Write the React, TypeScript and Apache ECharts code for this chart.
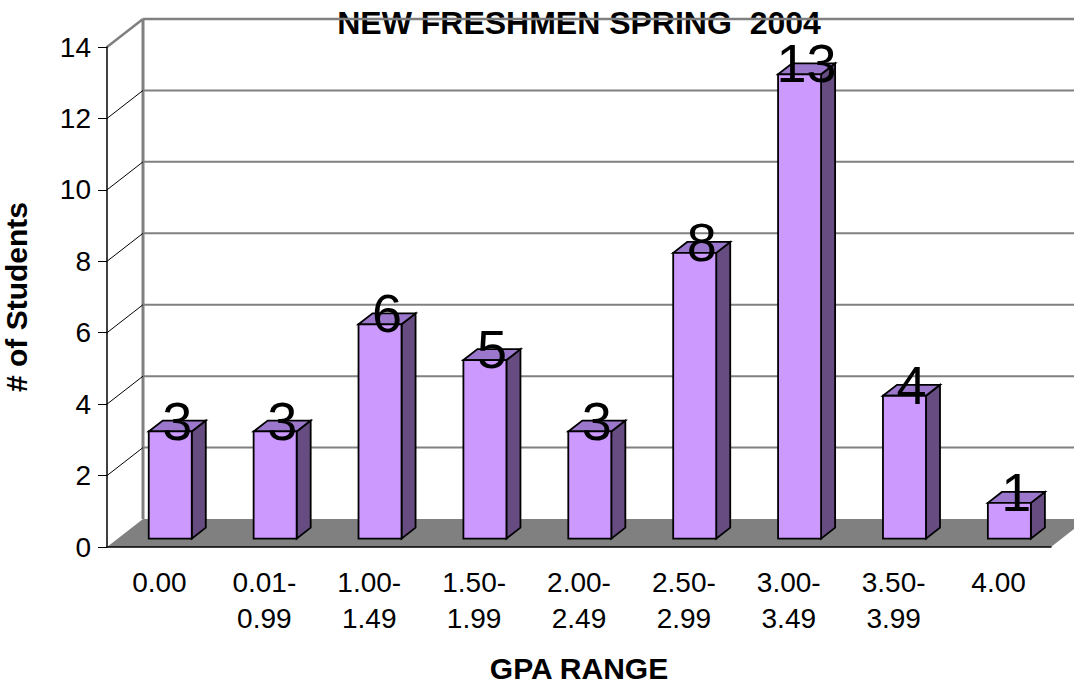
import React, { useEffect, useRef } from "react";
import * as echarts from "echarts";

const categories = [
  "0.00",
  "0.01-\n0.99",
  "1.00-\n1.49",
  "1.50-\n1.99",
  "2.00-\n2.49",
  "2.50-\n2.99",
  "3.00-\n3.49",
  "3.50-\n3.99",
  "4.00",
];
const students = [3, 3, 6, 5, 3, 8, 13, 4, 1];
const yTicks = [0, 2, 4, 6, 8, 10, 12, 14];
const chartTitle = "NEW FRESHMEN SPRING  2004";
const xName = "GPA RANGE";
const yName = "# of Students";

const FONT = "'Liberation Sans', Arial, Helvetica, sans-serif";
const DEPTH = [36, -28];
const FRONT = 0.3;
const BAR_DEPTH = 0.39;
const BAR_W = 0.41;
const GRAY = "#808080";

export default function App() {
  const ref = useRef<HTMLDivElement>(null);

  useEffect(() => {
    document.body.style.margin = "0";
    if (!ref.current) return;
    const chart = echarts.init(ref.current, undefined, { renderer: "svg" });
    const yMin = yTicks[0];
    const yMax = yTicks[yTicks.length - 1];

    const option: any = {
      animation: false,
      backgroundColor: "#ffffff",
      title: {
        text: chartTitle,
        left: 574,
        top: 2,
        textAlign: "center",
        z: 0,
        textStyle: {
          fontSize: 32,
          fontWeight: "bold",
          color: "#000",
          fontFamily: FONT,
          lineHeight: 32,
        },
      },
      grid: {
        left: 107,
        top: 47,
        width: 944,
        height: 500,
        containLabel: false,
        outerBoundsMode: "none",
      },
      xAxis: {
        type: "category",
        data: categories,
        z: 5,
        axisLine: { lineStyle: { color: "#000", width: 1.5 } },
        axisTick: { length: 9, lineStyle: { color: "#000", width: 1 } },
        axisLabel: {
          color: "#000",
          fontSize: 28,
          lineHeight: 36,
          margin: 17,
          interval: 0,
          fontFamily: FONT,
        },
        splitLine: { show: false },
        name: xName,
        nameLocation: "middle",
        nameGap: 106,
        nameTextStyle: {
          fontSize: 30,
          fontWeight: "bold",
          color: "#000",
          fontFamily: FONT,
          lineHeight: 30,
        },
      },
      yAxis: {
        type: "value",
        min: yMin,
        max: yMax,
        interval: 2,
        z: 5,
        axisLine: { show: true, lineStyle: { color: "#000", width: 1.5 } },
        axisTick: { show: true, length: 9, lineStyle: { color: "#000", width: 1 } },
        axisLabel: { color: "#000", fontSize: 28, margin: 16, fontFamily: FONT },
        splitLine: { show: false },
        name: yName,
        nameLocation: "middle",
        nameGap: 76,
        nameTextStyle: {
          fontSize: 30,
          fontWeight: "bold",
          color: "#000",
          fontFamily: FONT,
          lineHeight: 30,
        },
      },
      series: [
        {
          type: "custom",
          name: "walls",
          z: 1,
          silent: true,
          data: yTicks.map((v) => [0, v]),
          renderItem: (_params: any, api: any) => {
            const v = api.value(1);
            const band = api.size([1, 0])[0];
            const p = api.coord([0, v]);
            const x0 = p[0] - band / 2;
            const x1 = api.coord([categories.length - 1, v])[0] + band / 2;
            const y = p[1];
            const dx = DEPTH[0];
            const dy = DEPTH[1];
            const children: any[] = [];
            if (v === yMin) {
              const yTop = api.coord([0, yMax])[1];
              children.push({
                type: "polygon",
                shape: {
                  points: [
                    [x0, y],
                    [x1, y],
                    [x1 + dx, y + dy],
                    [x0 + dx, y + dy],
                  ],
                },
                style: { fill: GRAY, stroke: null },
              });
              children.push({
                type: "line",
                shape: { x1: x0 + dx, y1: y + dy, x2: x0 + dx, y2: yTop + dy },
                style: { stroke: GRAY, lineWidth: 3 },
              });
            } else {
              const isTop = v === yMax;
              children.push({
                type: "line",
                shape: { x1: x0, y1: y, x2: x0 + dx, y2: y + dy },
                style: { stroke: isTop ? GRAY : "#000", lineWidth: isTop ? 2.5 : 1 },
              });
              children.push({
                type: "line",
                shape: { x1: x0 + dx, y1: y + dy, x2: x1 + dx, y2: y + dy },
                style: { stroke: GRAY, lineWidth: isTop ? 2.5 : 2 },
              });
            }
            return { type: "group", children };
          },
        },
        {
          type: "custom",
          name: "# of Students",
          z: 3,
          data: students.map((v, i) => [i, v]),
          renderItem: (_params: any, api: any) => {
            const i = api.value(0);
            const v = api.value(1);
            const band = api.size([1, 0])[0];
            const w = band * BAR_W;
            const b = api.coord([i, 0]);
            const t = api.coord([i, v]);
            const fx = DEPTH[0] * FRONT;
            const fy = DEPTH[1] * FRONT;
            const dx = DEPTH[0] * BAR_DEPTH;
            const dy = DEPTH[1] * BAR_DEPTH;
            const L = b[0] + fx - w / 2;
            const R = L + w;
            const T = t[1] + fy;
            const B = b[1] + fy;
            const stroke = { stroke: "#000", lineWidth: 1.8, lineJoin: "miter" };
            return {
              type: "group",
              children: [
                {
                  type: "polygon",
                  shape: {
                    points: [
                      [R, T],
                      [R + dx, T + dy],
                      [R + dx, B + dy],
                      [R, B],
                    ],
                  },
                  style: { fill: "#664C80", ...stroke },
                },
                {
                  type: "polygon",
                  shape: {
                    points: [
                      [L, T],
                      [L + dx, T + dy],
                      [R + dx, T + dy],
                      [R, T],
                    ],
                  },
                  style: { fill: "#9C78CC", ...stroke },
                },
                {
                  type: "rect",
                  shape: { x: L, y: T, width: w, height: B - T },
                  style: { fill: "#CC99FF", ...stroke },
                },
                {
                  type: "text",
                  x: (L + R) / 2 + dx / 2,
                  y: T + dy,
                  style: {
                    text: String(v),
                    fontSize: 54,
                    fontFamily: FONT,
                    fill: "#000",
                    align: "center",
                    verticalAlign: "middle",
                  },
                },
              ],
            };
          },
        },
      ],
    };

    chart.setOption(option);
    return () => chart.dispose();
  }, []);

  return <div ref={ref} style={{ width: 1074, height: 683 }} />;
}
